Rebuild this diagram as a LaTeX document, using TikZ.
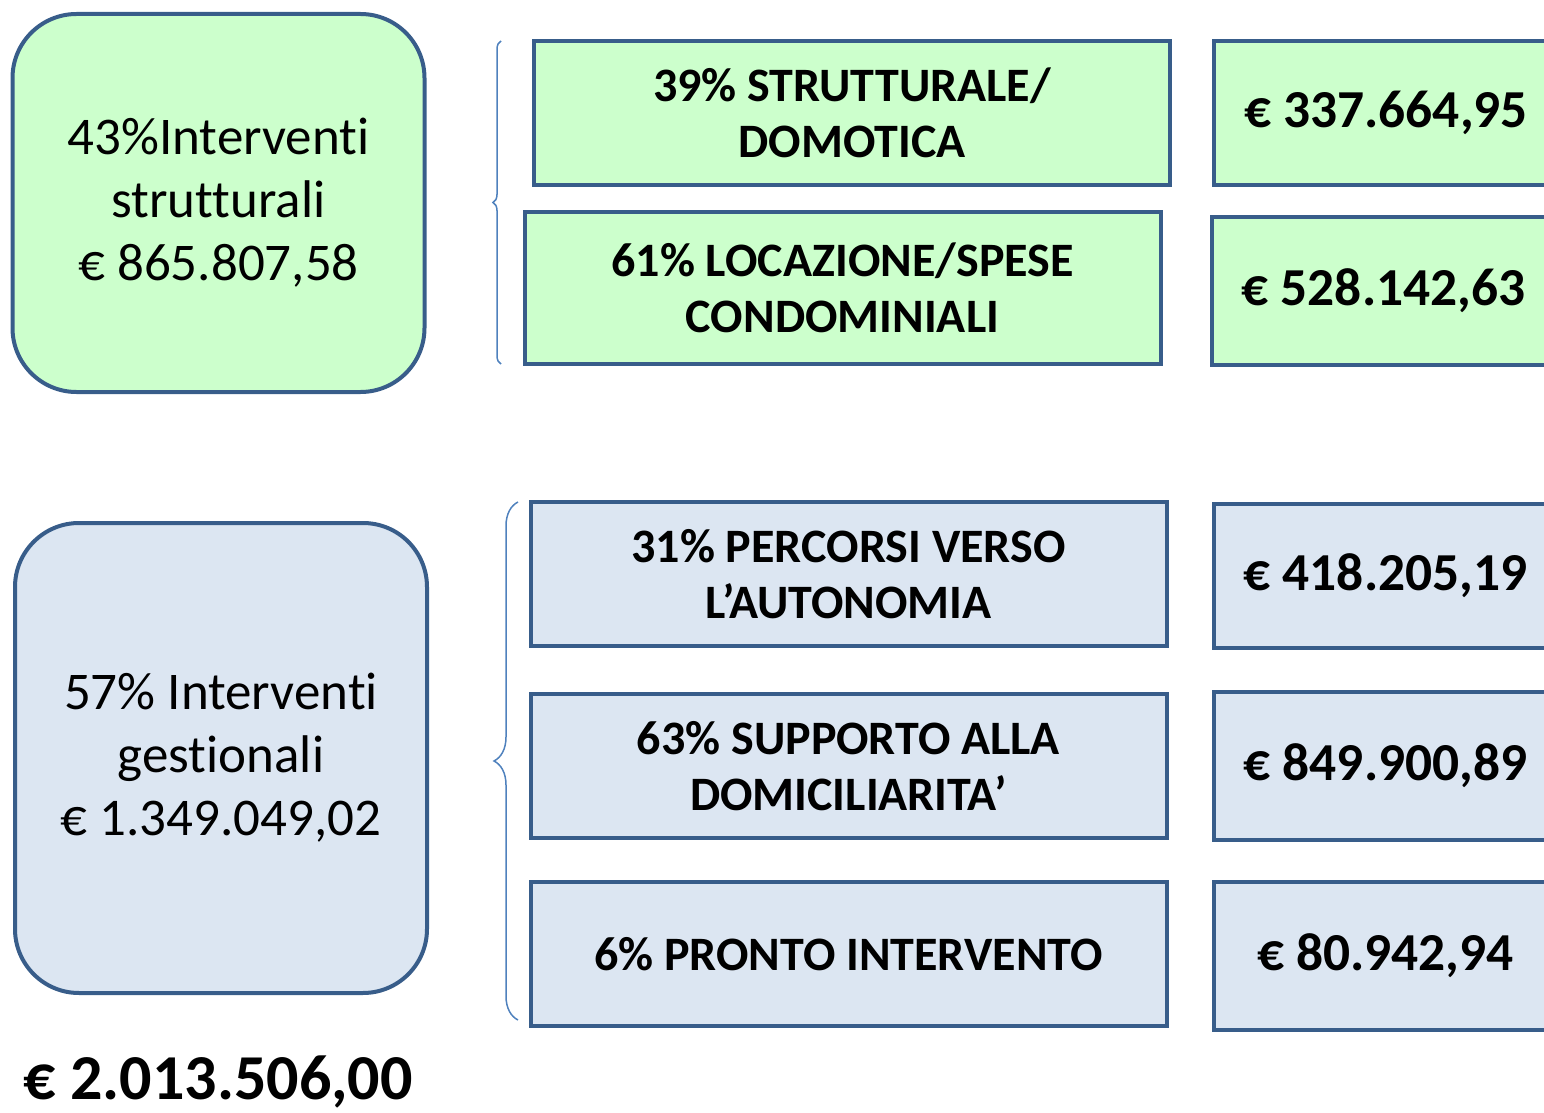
\documentclass[tikz,border=0pt]{standalone}
\usepackage{fontspec}
\setmainfont{Carlito}[Ligatures=NoCommon]
\usepackage{xcolor}
\usepackage{tikz}
\definecolor{boxborder}{RGB}{56, 93, 138}
\definecolor{boxgreen}{RGB}{204, 255, 204}
\definecolor{boxblue}{RGB}{220, 230, 242}
\definecolor{bracecol}{RGB}{79, 129, 189}
\usetikzlibrary{positioning,decorations.pathreplacing}

\begin{document}
\begin{tikzpicture}[x=0.5pt, y=-0.5pt]
    % Define styles
    \tikzstyle{macro} = [rectangle, rounded corners=32pt, draw=boxborder, line width=2pt,
                         minimum width=206pt, align=center, font=\fontsize{26.5}{31.5}\selectfont]
    \tikzstyle{voce} = [rectangle, draw=boxborder, line width=2pt, minimum width=318pt,
                        minimum height=72pt, align=center, font=\fontsize{24}{28}\selectfont\bfseries]
    \tikzstyle{importo} = [rectangle, draw=boxborder, line width=2pt, minimum width=172pt,
                           minimum height=72pt, font=\fontsize{26.7}{31}\selectfont\bfseries]
    \tikzstyle{graffa} = [draw=bracecol, line width=0.75pt, decorate]

    \clip (0,0) rectangle (1544,1113);

    % Nodes
    \node[macro, fill=boxgreen, minimum height=189pt] (strutt) at (218.5,203) {43\%Interventi\\strutturali\\€ 865.807,58};
    \node[macro, fill=boxblue, minimum height=235pt] (gest) at (221,758) {57\% Interventi\\gestionali\\€ 1.349.049,02};

    \node[voce, fill=boxgreen] (domotica) at (852,113) {39\% STRUTTURALE/\\DOMOTICA};
    \node[voce, fill=boxgreen, minimum height=76pt] (locazione) at (842.5,288) {61\% LOCAZIONE/SPESE\\CONDOMINIALI};
    \node[voce, fill=boxblue] (percorsi) at (848.5,574) {31\% PERCORSI VERSO\\L’AUTONOMIA};
    \node[voce, fill=boxblue] (supporto) at (848.5,766) {63\% SUPPORTO ALLA\\DOMICILIARITA’};
    \node[voce, fill=boxblue] (pronto) at (848.5,954) {6\% PRONTO INTERVENTO};

    \node[importo, fill=boxgreen, right=20pt of domotica] (eurodom) {€ 337.664,95};
    \node[importo, fill=boxgreen, minimum height=74pt, right=23.5pt of locazione, yshift=-1.5pt] (euroloc) {€ 528.142,63};
    \node[importo, fill=boxblue, right=21.5pt of percorsi, yshift=-1pt] (europerc) {€ 418.205,19};
    \node[importo, fill=boxblue, minimum height=74pt, right=21.5pt of supporto] (eurosupp) {€ 849.900,89};
    \node[importo, fill=boxblue, minimum height=74pt, right=21.5pt of pronto, yshift=-1pt] (europronto) {€ 80.942,94};

    \node[anchor=base, inner sep=0pt, font=\fontsize{32}{38}\selectfont\bfseries] (totale) at (218,1099) {€ 2.013.506,00};

    % Braces
    \coordinate (g1a) at (501,364);
    \coordinate (g1b) at (501,41);
    \coordinate (g2a) at (518,1020);
    \coordinate (g2b) at (518,502);
    \draw[graffa, decoration={brace, amplitude=4pt}] (g1a) -- (g1b);
    \draw[graffa, decoration={brace, amplitude=12pt}] (g2a) -- (g2b);
\end{tikzpicture}
\end{document}
